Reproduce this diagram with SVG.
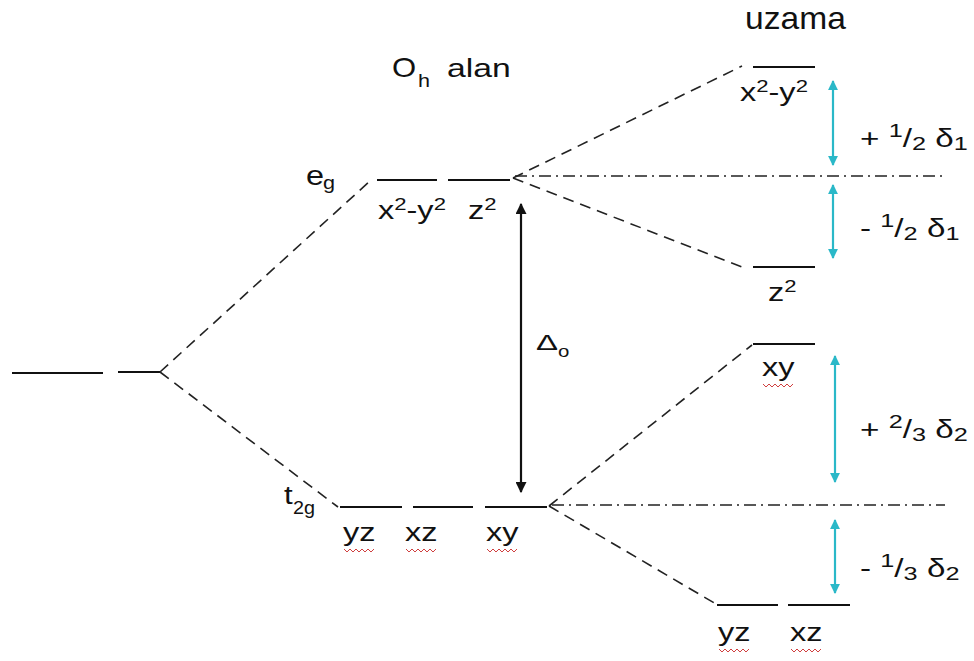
<svg xmlns="http://www.w3.org/2000/svg" width="974" height="661" viewBox="0 0 974 661" font-size="25">
<defs>
<style>
.lv{stroke:#111;stroke-width:2;fill:none}
.dash{stroke:#222;stroke-width:1.6;fill:none;stroke-dasharray:11 7}
.dd{stroke:#222;stroke-width:1.6;fill:none;stroke-dasharray:12 5 2 5}
.cy{stroke:#2ab8c8;stroke-width:2.2;fill:none}
.bk{stroke:#111;stroke-width:2.2;fill:none}
text{font-family:"Liberation Sans",Arial,sans-serif;fill:#111}
.sq{stroke:#d04040;stroke-width:1;fill:none}
</style>
<marker id="ab" viewBox="0 0 10 10" refX="9" refY="5" markerWidth="5" markerHeight="5" orient="auto-start-reverse" markerUnits="strokeWidth"><path d="M0,0 L10,5 L0,10 z" fill="#111"/></marker>
<marker id="ac" viewBox="0 0 10 10" refX="9" refY="5" markerWidth="4.5" markerHeight="4.5" orient="auto-start-reverse" markerUnits="strokeWidth"><path d="M0,0 L10,5 L0,10 z" fill="#2ab8c8"/></marker>
</defs>
<rect width="974" height="661" fill="#fff"/>

<g id="titles">
<text transform="translate(745,29) scale(1.05,1)" font-size="32">uzama</text>
<text transform="translate(392,77) scale(1.15,1)" font-size="27">O</text>
<text transform="translate(418,87) scale(1.2,1)" font-size="18">h</text>
<text transform="translate(447,77) scale(1.35,1)" font-size="25">alan</text>
</g>

<g id="free-ion">
<line class="lv" x1="12" y1="373" x2="103" y2="373"/>
<line class="lv" x1="118" y1="372" x2="160" y2="372"/>
</g>

<g id="eg">
<text transform="translate(306,185) scale(1.2,1)" font-size="27" fill="#6a3030">e</text>
<text transform="translate(323,189) scale(1.2,1)" font-size="18" fill="#6a3030">g</text>
<line class="lv" x1="377" y1="180" x2="437" y2="180"/>
<line class="lv" x1="448" y1="180" x2="510" y2="180"/>
<text transform="translate(378,219) scale(1.3,1)">x<tspan font-size="17" dy="-9">2</tspan><tspan dy="9">-y</tspan><tspan font-size="17" dy="-9">2</tspan></text>
<text transform="translate(468,219) scale(1.3,1)">z<tspan font-size="17" dy="-9">2</tspan></text>
</g>

<g id="t2g">
<text transform="translate(284,504) scale(1.2,1)" font-size="26">t</text>
<text transform="translate(293,514) scale(1.1,1)" font-size="18">2g</text>
<line class="lv" x1="340" y1="507" x2="402" y2="507"/>
<line class="lv" x1="413" y1="507" x2="473" y2="507"/>
<line class="lv" x1="485" y1="507" x2="547" y2="507"/>
<text transform="translate(343,541) scale(1.3,1)">yz</text>
<text transform="translate(405,541) scale(1.3,1)">xz</text>
<text transform="translate(486,541) scale(1.3,1)">xy</text>
<path class="sq" d="M344,549 l3,3 l3,-3 l3,3 l3,-3 l3,3 l3,-3 l3,3 l3,-3 l3,3 l3,-3"/>
<path class="sq" d="M406,549 l3,3 l3,-3 l3,3 l3,-3 l3,3 l3,-3 l3,3 l3,-3 l3,3 l3,-3"/>
<path class="sq" d="M487,549 l3,3 l3,-3 l3,3 l3,-3 l3,3 l3,-3 l3,3 l3,-3 l3,3 l3,-3"/>
</g>

<g id="delta-o">
<text transform="translate(536,350) scale(1.5,1)" font-size="22">Δ</text>
<text transform="translate(558,357) scale(1.2,1)" font-size="17">o</text>
</g>

<g id="x2y2-upper">
<line class="lv" x1="753" y1="67" x2="815" y2="67"/>
<text transform="translate(740,101) scale(1.3,1)">x<tspan font-size="17" dy="-9">2</tspan><tspan dy="9">-y</tspan><tspan font-size="17" dy="-9">2</tspan></text>
</g>

<g id="z2-lower">
<line class="lv" x1="753" y1="267" x2="815" y2="267"/>
<text transform="translate(768,301) scale(1.3,1)">z<tspan font-size="17" dy="-9">2</tspan></text>
</g>

<g id="xy-upper">
<line class="lv" x1="753" y1="344" x2="815" y2="344"/>
<text transform="translate(762,376) scale(1.3,1)">xy</text>
<path class="sq" d="M763,384 l3,3 l3,-3 l3,3 l3,-3 l3,3 l3,-3 l3,3 l3,-3 l3,3 l3,-3"/>
</g>

<g id="yz-xz-lower">
<line class="lv" x1="717" y1="605" x2="778" y2="605"/>
<line class="lv" x1="788" y1="605" x2="850" y2="605"/>
<text transform="translate(718,641) scale(1.3,1)">yz</text>
<text transform="translate(790,641) scale(1.3,1)">xz</text>
<path class="sq" d="M719,649 l3,3 l3,-3 l3,3 l3,-3 l3,3 l3,-3 l3,3 l3,-3 l3,3 l3,-3"/>
<path class="sq" d="M791,649 l3,3 l3,-3 l3,3 l3,-3 l3,3 l3,-3 l3,3 l3,-3 l3,3 l3,-3"/>
</g>

<g id="labels-delta">
<text transform="translate(860,147) scale(1.33,1)">+ <tspan font-size="19" dy="-10">1</tspan><tspan dy="10">/</tspan><tspan font-size="19" dy="3">2</tspan><tspan dy="-3"> δ</tspan><tspan font-size="19" dy="3">1</tspan></text>
<text transform="translate(860,237) scale(1.33,1)">- <tspan font-size="19" dy="-10">1</tspan><tspan dy="10">/</tspan><tspan font-size="19" dy="3">2</tspan><tspan dy="-3"> δ</tspan><tspan font-size="19" dy="3">1</tspan></text>
<text transform="translate(860,438) scale(1.33,1)">+ <tspan font-size="19" dy="-10">2</tspan><tspan dy="10">/</tspan><tspan font-size="19" dy="3">3</tspan><tspan dy="-3"> δ</tspan><tspan font-size="19" dy="3">2</tspan></text>
<text transform="translate(860,577) scale(1.33,1)">- <tspan font-size="19" dy="-10">1</tspan><tspan dy="10">/</tspan><tspan font-size="19" dy="3">3</tspan><tspan dy="-3"> δ</tspan><tspan font-size="19" dy="3">2</tspan></text>
</g>

<g id="connectors">
<line class="dash" x1="160" y1="372" x2="370" y2="181"/>
<line class="dash" x1="160" y1="372" x2="338" y2="507"/>
<line class="dash" x1="513" y1="178" x2="742" y2="66"/>
<line class="dash" x1="513" y1="178" x2="742" y2="267"/>
<line class="dash" x1="549" y1="506" x2="752" y2="345"/>
<line class="dash" x1="549" y1="506" x2="716" y2="604"/>
<line class="dd" x1="515" y1="176" x2="945" y2="176"/>
<line class="dd" x1="552" y1="505" x2="945" y2="505"/>
<line class="bk" x1="521" y1="204" x2="521" y2="492" marker-start="url(#ab)" marker-end="url(#ab)"/>
<line class="cy" x1="833" y1="81" x2="833" y2="165" marker-start="url(#ac)" marker-end="url(#ac)"/>
<line class="cy" x1="833" y1="185" x2="833" y2="258" marker-start="url(#ac)" marker-end="url(#ac)"/>
<line class="cy" x1="835" y1="356" x2="835" y2="482" marker-start="url(#ac)" marker-end="url(#ac)"/>
<line class="cy" x1="835" y1="520" x2="835" y2="593" marker-start="url(#ac)" marker-end="url(#ac)"/>
</g>
</svg>
